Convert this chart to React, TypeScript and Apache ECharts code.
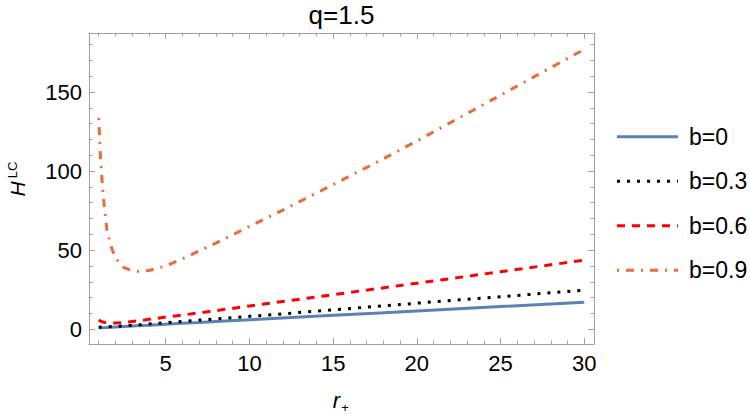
import React, { useEffect, useRef } from "react";
import * as echarts from "echarts";

// r_+ sample positions (x axis)
const rPlus = [1, 1.1, 1.2, 1.3, 1.5, 1.75, 2, 2.5, 3, 3.5, 4, 5, 6, 7, 8, 10, 12.5, 15, 17.5, 20, 25, 30];

// H^LC values
const hB00 = [0.9, 0.95, 1.0, 1.05, 1.2, 1.3, 1.5, 1.8, 2.1, 2.4, 2.6, 3.2, 3.8, 4.3, 4.9, 6.0, 7.4, 8.8, 10.2, 11.6, 14.4, 17.1];
const hB03 = [1.3, 1.35, 1.4, 1.5, 1.6, 1.7, 1.8, 2.1, 2.5, 2.9, 3.3, 4.1, 5.0, 5.8, 6.6, 8.2, 10.2, 12.3, 14.4, 16.5, 20.6, 24.7];
const hB06 = [5.9, 5.2, 4.8, 4.5, 4.2, 4.0, 4.0, 4.3, 4.9, 5.5, 6.3, 7.7, 9.0, 10.4, 11.8, 14.7, 18.3, 21.9, 25.5, 29.1, 36.4, 43.7];
const hB09 = [133.5, 110, 94, 81, 62, 52, 45, 39, 37, 36.5, 37.2, 40, 44.5, 49.5, 54.5, 65, 78, 91.5, 105, 119, 148, 177];

const seriesNames = ["b=0", "b=0.3", "b=0.6", "b=0.9"];

const xMajorTicks = [5, 10, 15, 20, 25, 30];
const xMinorTicks = [1, 2, 3, 4, 6, 7, 8, 9, 11, 12, 13, 14, 16, 17, 18, 19, 21, 22, 23, 24, 26, 27, 28, 29];
const yMajorTicks = [0, 50, 100, 150];
const yMinorTicks = [10, 20, 30, 40, 60, 70, 80, 90, 110, 120, 130, 140, 160, 170, 180];

const titleText = "q=1.5";

const X_MIN = 0.42;
const X_MAX = 30.58;
const Y_MIN = -9.3;
const Y_MAX = 187.3;

const FONT = "'Liberation Sans', Arial, Helvetica, sans-serif";
const FRAME = "#a0a0a0";

function xAx(position: string, ticks: number[], len: number, showLine: boolean, showLabel: boolean) {
  return {
    type: "value",
    position,
    min: X_MIN,
    max: X_MAX,
    axisLine: { show: showLine, onZero: false, lineStyle: { color: FRAME, width: 1 } },
    axisTick: { show: true, inside: true, length: len, customValues: ticks, lineStyle: { color: FRAME, width: 1 } },
    axisLabel: {
      show: showLabel,
      customValues: ticks,
      fontSize: 22,
      fontFamily: FONT,
      color: "#000",
      margin: 8,
    },
    splitLine: { show: false },
  };
}

function yAx(position: string, ticks: number[], len: number, showLine: boolean, showLabel: boolean) {
  return {
    type: "value",
    position,
    min: Y_MIN,
    max: Y_MAX,
    axisLine: { show: showLine, onZero: false, lineStyle: { color: FRAME, width: 1 } },
    axisTick: { show: true, inside: true, length: len, customValues: ticks, lineStyle: { color: FRAME, width: 1 } },
    axisLabel: {
      show: showLabel,
      customValues: ticks,
      fontSize: 22,
      fontFamily: FONT,
      color: "#000",
      margin: 7,
    },
    splitLine: { show: false },
  };
}

export default function App() {
  const ref = useRef<HTMLDivElement>(null);

  useEffect(() => {
    document.body.style.margin = "0";
    if (!ref.current) return;
    const chart = echarts.init(ref.current, undefined, { renderer: "svg" });

    const colors = ["#5E81B5", "#000000", "#FF0000", "#EE6A3B"];
    const dashes: any[] = ["solid", [3, 7], [8, 7], [2, 7, 8, 7]];
    const widths = [3, 3, 3, 3];
    const allData = [hB00, hB03, hB06, hB09];

    const legendItems: any[] = [];
    seriesNames.forEach((name, i) => {
      const y = 136.7 + 44.5 * i;
      legendItems.push({
        type: "line",
        shape: { x1: 617, y1: y, x2: 678, y2: y },
        style: {
          stroke: colors[i],
          lineWidth: 3,
          lineDash: dashes[i] === "solid" ? null : dashes[i],
          lineCap: "butt",
        },
      });
      legendItems.push({
        type: "text",
        x: 689,
        y,
        style: { text: name, fontSize: 23, fontFamily: FONT, fill: "#000", align: "left", verticalAlign: "middle" },
      });
    });

    const option: any = {
      animation: false,
      grid: { left: 89, top: 33, right: 156, bottom: 70, containLabel: false },
      xAxis: [
        xAx("bottom", xMajorTicks, 6, true, true),
        xAx("bottom", xMinorTicks, 3.5, false, false),
        xAx("top", xMajorTicks, 6, true, false),
        xAx("top", xMinorTicks, 3.5, false, false),
      ],
      yAxis: [
        yAx("left", yMajorTicks, 6, true, true),
        yAx("left", yMinorTicks, 3.5, false, false),
        yAx("right", yMajorTicks, 6, true, false),
        yAx("right", yMinorTicks, 3.5, false, false),
      ],
      series: seriesNames.map((name, i) => ({
        type: "line",
        name,
        xAxisIndex: 0,
        yAxisIndex: 0,
        data: rPlus.map((r, j) => [r, allData[i][j]]),
        showSymbol: false,
        symbol: "none",
        smooth: false,
        color: colors[i],
        lineStyle: { color: colors[i], width: widths[i], type: dashes[i], cap: "butt" },
        itemStyle: { color: colors[i] },
      })),
      graphic: [
        {
          type: "text",
          x: 341.5,
          y: 15,
          style: { text: titleText, fontSize: 26, fontFamily: FONT, fill: "#000", align: "center", verticalAlign: "middle" },
        },
        {
          type: "text",
          x: 17,
          y: 189,
          rotation: Math.PI / 2,
          style: { text: "H", fontSize: 21, fontStyle: "italic", fontFamily: FONT, fill: "#000", align: "center", verticalAlign: "middle" },
        },
        {
          type: "text",
          x: 12,
          y: 170,
          rotation: Math.PI / 2,
          style: { text: "LC", fontSize: 13, fontFamily: FONT, fill: "#000", align: "center", verticalAlign: "middle" },
        },
        {
          type: "text",
          x: 336.5,
          y: 400,
          style: { text: "r", fontSize: 22, fontStyle: "italic", fontFamily: FONT, fill: "#000", align: "center", verticalAlign: "middle" },
        },
        {
          type: "text",
          x: 345,
          y: 407,
          style: { text: "+", fontSize: 13, fontFamily: FONT, fill: "#000", align: "center", verticalAlign: "middle" },
        },
        ...legendItems,
      ],
    };

    chart.setOption(option);
    return () => chart.dispose();
  }, []);

  return <div ref={ref} style={{ width: 750, height: 414 }} />;
}
